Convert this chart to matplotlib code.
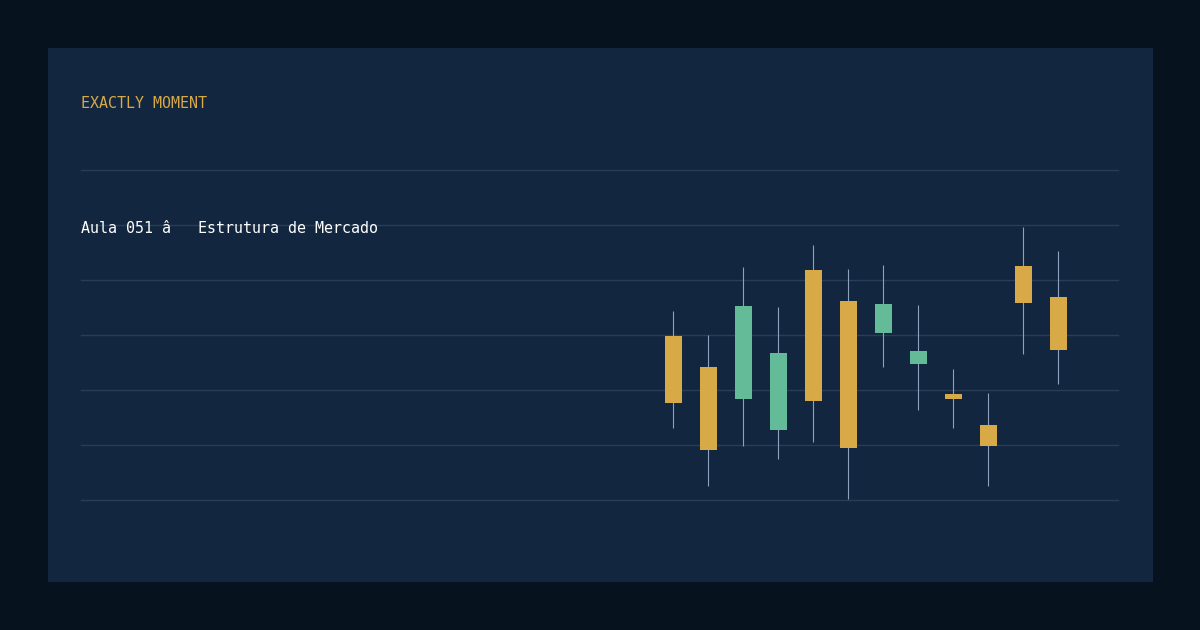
"""
EXACTLY MOMENT - candlestick card (Aula 051)
"""
import matplotlib.pyplot as plt
from matplotlib.patches import Rectangle

# candle data (price units, 10 per gridline)
opens = [129.8, 124.2, 118.4, 112.7, 141.8, 136.2, 130.4, 124.7, 119.3, 113.6, 142.5, 136.9]
highs = [134.4, 130.0, 142.4, 135.1, 146.4, 142.0, 142.7, 135.5, 123.8, 119.5, 149.6, 145.3]
lows = [113.1, 102.5, 109.8, 107.4, 110.5, 100.2, 124.2, 116.4, 113.1, 102.5, 126.5, 121.1]
closes = [117.6, 109.1, 135.3, 126.7, 118.0, 109.5, 135.6, 127.1, 118.4, 109.8, 135.8, 127.3]
grid_levels = [100, 110, 120, 130, 140, 150, 160]

title = 'EXACTLY MOMENT'
subtitle = 'Aula 051 \u00e2   Estrutura de Mercado'

BG_OUT = '#07121f'
BG_PANEL = '#12263f'
GOLD = '#d8aa47'
GREEN = '#63bb98'
WICK = '#8ea2bd'
GRID = '#2a3d56'

fig = plt.figure(figsize=(12, 6.3), dpi=100)
fig.patch.set_facecolor(BG_OUT)

# inner panel (behind the axes)
fig.patches.append(Rectangle((0.04, 0.0762), 0.9208, 0.8476, transform=fig.transFigure,
                             facecolor=BG_PANEL, edgecolor='none', zorder=-1))

ax = fig.add_axes([0.0675, 0.2063, 0.8642, 0.5238])
ax.set_facecolor('none')
for s in ax.spines.values():
    s.set_visible(False)
ax.set_xticks([])
ax.set_yticks([])

for g in grid_levels:
    ax.axhline(g, color=GRID, lw=1, zorder=1, clip_on=False)

w = 0.486
for i, (o, h, l, c) in enumerate(zip(opens, highs, lows, closes)):
    col = GREEN if c > o else GOLD
    ax.plot([i, i], [l, h], color=WICK, lw=0.8, zorder=2, solid_capstyle='butt')
    ax.add_patch(Rectangle((i - w / 2, min(o, c)), w, abs(c - o),
                           facecolor=col, edgecolor='none', zorder=3))

ax.set_xlim(-16.91, 12.71)
ax.set_ylim(100, 160)

fig.text(0.0675, 0.8365, title, color=GOLD, fontsize=10.8,
         family='DejaVu Sans Mono', va='center', ha='left')
fig.text(0.0675, 0.638, subtitle, color='white', fontsize=10.8,
         family='DejaVu Sans Mono', va='center', ha='left')

plt.savefig('out.png', dpi=100, facecolor=BG_OUT)
